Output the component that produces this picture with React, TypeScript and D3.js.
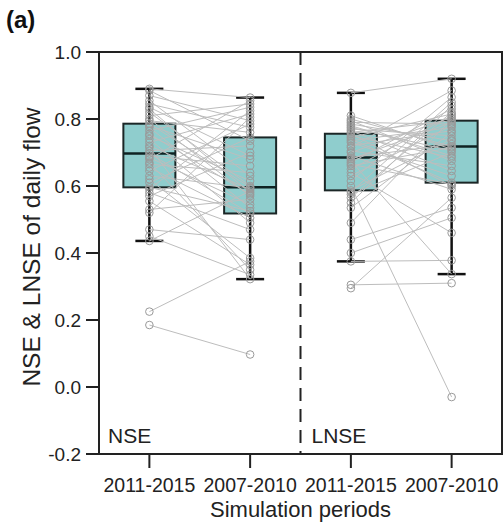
import React from "react";
import * as d3 from "d3";

// Paired catchment scores: index i in the 2011-2015 array is the same
// catchment as index i in the 2007-2010 array.
const periods = ["2011-2015", "2007-2010"];
const metrics = ["NSE", "LNSE"];

const nse20112015 = [
  0.185, 0.225, 0.436, 0.45, 0.47, 0.52, 0.53, 0.555, 0.57, 0.58, 0.59, 0.596,
  0.61, 0.62, 0.63, 0.645, 0.655, 0.665, 0.67, 0.68, 0.685, 0.69, 0.697, 0.705,
  0.715, 0.72, 0.73, 0.74, 0.75, 0.755, 0.765, 0.775, 0.78, 0.786, 0.795, 0.8,
  0.81, 0.82, 0.83, 0.835, 0.845, 0.855, 0.87, 0.885, 0.89,
];
const nse20072010 = [
  0.097, 0.375, 0.585, 0.335, 0.44, 0.805, 0.56, 0.365, 0.7, 0.47, 0.825, 0.525,
  0.745, 0.385, 0.594, 0.785, 0.505, 0.64, 0.35, 0.855, 0.545, 0.66, 0.518, 0.72,
  0.322, 0.59, 0.815, 0.49, 0.615, 0.575, 0.835, 0.535, 0.68, 0.596, 0.76, 0.57,
  0.845, 0.6, 0.58, 0.69, 0.775, 0.63, 0.795, 0.735, 0.864,
];
const lnse20112015 = [
  0.295, 0.305, 0.375, 0.4, 0.44, 0.49, 0.535, 0.55, 0.565, 0.575, 0.582, 0.587,
  0.6, 0.615, 0.63, 0.64, 0.65, 0.66, 0.665, 0.67, 0.675, 0.68, 0.685, 0.69, 0.7,
  0.705, 0.715, 0.72, 0.73, 0.735, 0.74, 0.745, 0.75, 0.756, 0.76, 0.765, 0.77,
  0.775, 0.78, 0.785, 0.79, 0.795, 0.8, 0.81, 0.878,
];
const lnse20072010 = [
  0.565, 0.31, 0.378, 0.505, 0.535, 0.8, 0.76, 0.84, 0.82, 0.7, 0.85, 0.74, -0.03,
  0.865, 0.78, 0.46, 0.81, 0.715, 0.605, 0.83, 0.337, 0.79, 0.725, 0.59, 0.805,
  0.66, 0.885, 0.765, 0.63, 0.775, 0.61, 0.815, 0.685, 0.6, 0.795, 0.645, 0.75,
  0.705, 0.69, 0.735, 0.785, 0.675, 0.718, 0.71, 0.92,
];

const yTicks = [-0.2, 0, 0.2, 0.4, 0.6, 0.8, 1.0];

const W = 503;
const H = 525;
const M = { left: 99, right: 502, top: 52, bottom: 454 };

type Stats = { q1: number; med: number; q3: number; lo: number; hi: number };

function boxStats(values: number[]): Stats {
  const s = values.slice().sort(d3.ascending);
  const q1 = d3.quantile(s, 0.25)!;
  const med = d3.quantile(s, 0.5)!;
  const q3 = d3.quantile(s, 0.75)!;
  const iqr = q3 - q1;
  const lo = d3.min(s.filter((v) => v >= q1 - 1.5 * iqr))!;
  const hi = d3.max(s.filter((v) => v <= q3 + 1.5 * iqr))!;
  return { q1, med, q3, lo, hi };
}

export default function App() {
  const groups = [
    { key: "NSE|2011-2015", values: nse20112015 },
    { key: "NSE|2007-2010", values: nse20072010 },
    { key: "LNSE|2011-2015", values: lnse20112015 },
    { key: "LNSE|2007-2010", values: lnse20072010 },
  ];
  const pairs = [
    { metric: metrics[0], a: nse20112015, b: nse20072010 },
    { metric: metrics[1], a: lnse20112015, b: lnse20072010 },
  ];

  const x = d3
    .scalePoint<string>()
    .domain(groups.map((g) => g.key))
    .range([M.left, M.right])
    .padding(0.5);
  const y = d3.scaleLinear().domain([-0.2, 1.0]).range([M.bottom, M.top]);

  const boxW = 52;
  const capW = 28;
  const font = "'Liberation Sans', Arial, sans-serif";
  const divX = (x(groups[1].key)! + x(groups[2].key)!) / 2;

  return (
    <svg width={W} height={H} style={{ position: "absolute", left: 0, top: 0 }}>
      <rect width={W} height={H} fill="#fff" />

      {/* boxes and whiskers */}
      {groups.map((g) => {
        const st = boxStats(g.values);
        const cx = x(g.key)!;
        return (
          <g key={g.key}>
            <rect
              x={cx - boxW / 2}
              y={y(st.q3)}
              width={boxW}
              height={y(st.q1) - y(st.q3)}
              fill="#8fcdcd"
              stroke="#1b2626"
              strokeWidth={2}
            />
            <line x1={cx - boxW / 2} x2={cx + boxW / 2} y1={y(st.med)} y2={y(st.med)} stroke="#0f2222" strokeWidth={2.5} />
            <line x1={cx} x2={cx} y1={y(st.q3)} y2={y(st.hi)} stroke="#111" strokeWidth={2.5} />
            <line x1={cx} x2={cx} y1={y(st.q1)} y2={y(st.lo)} stroke="#111" strokeWidth={2.5} />
            <line x1={cx - capW / 2} x2={cx + capW / 2} y1={y(st.hi)} y2={y(st.hi)} stroke="#111" strokeWidth={2.5} />
            <line x1={cx - capW / 2} x2={cx + capW / 2} y1={y(st.lo)} y2={y(st.lo)} stroke="#111" strokeWidth={2.5} />
          </g>
        );
      })}

      {/* paired lines between periods */}
      {pairs.map((p) => {
        const xa = x(`${p.metric}|${periods[0]}`)!;
        const xb = x(`${p.metric}|${periods[1]}`)!;
        return (
          <g key={p.metric + "-lines"}>
            {p.a.map((v, i) => (
              <line key={i} x1={xa} y1={y(v)} x2={xb} y2={y(p.b[i])} stroke="#bdbdbd" strokeWidth={1} />
            ))}
          </g>
        );
      })}

      {/* individual catchment points */}
      {groups.map((g) => (
        <g key={g.key + "-pts"}>
          {g.values.map((v, i) => (
            <circle key={i} cx={x(g.key)!} cy={y(v)} r={3.8} fill="none" stroke="#9a9a9a" strokeWidth={1} />
          ))}
        </g>
      ))}

      {/* frame */}
      <rect
        x={M.left}
        y={M.top}
        width={M.right - M.left}
        height={M.bottom - M.top}
        fill="none"
        stroke="#222"
        strokeWidth={2}
      />
      <line x1={divX} x2={divX} y1={M.top} y2={M.bottom} stroke="#222" strokeWidth={2} strokeDasharray="13,8" />

      {/* y axis */}
      {yTicks.map((t) => (
        <g key={t}>
          <line x1={M.left - 13} x2={M.left} y1={y(t)} y2={y(t)} stroke="#222" strokeWidth={2} />
          <text x={M.left - 18} y={y(t)} dy="0.35em" textAnchor="end" fontFamily={font} fontSize={19} fill="#222">
            {d3.format(".1f")(t).replace("−", "-")}
          </text>
        </g>
      ))}
      <text
        transform={`translate(40,${(M.top + M.bottom) / 2 - 6}) rotate(-90)`}
        textAnchor="middle"
        fontFamily={font}
        fontSize={24.5}
        fill="#222"
      >
        NSE &amp; LNSE of daily flow
      </text>

      {/* x axis */}
      {groups.map((g) => {
        const cx = x(g.key)!;
        return (
          <g key={g.key + "-tick"}>
            <line x1={cx} x2={cx} y1={M.bottom} y2={M.bottom + 14} stroke="#222" strokeWidth={2} />
            <text x={cx} y={M.bottom + 38} textAnchor="middle" fontFamily={font} fontSize={19.5} fill="#222">
              {g.key.split("|")[1]}
            </text>
          </g>
        );
      })}
      <text x={(M.left + M.right) / 2} y={517} textAnchor="middle" fontFamily={font} fontSize={22} fill="#222">
        Simulation periods
      </text>

      {/* panel labels */}
      <text x={M.left + 9} y={M.bottom - 11} fontFamily={font} fontSize={21} fill="#222">
        {metrics[0]}
      </text>
      <text x={divX + 11} y={M.bottom - 11} fontFamily={font} fontSize={21} fill="#222">
        {metrics[1]}
      </text>
      <text x={6} y={28} fontFamily={font} fontSize={24} fontWeight="bold" fill="#111">
        (a)
      </text>
    </svg>
  );
}
